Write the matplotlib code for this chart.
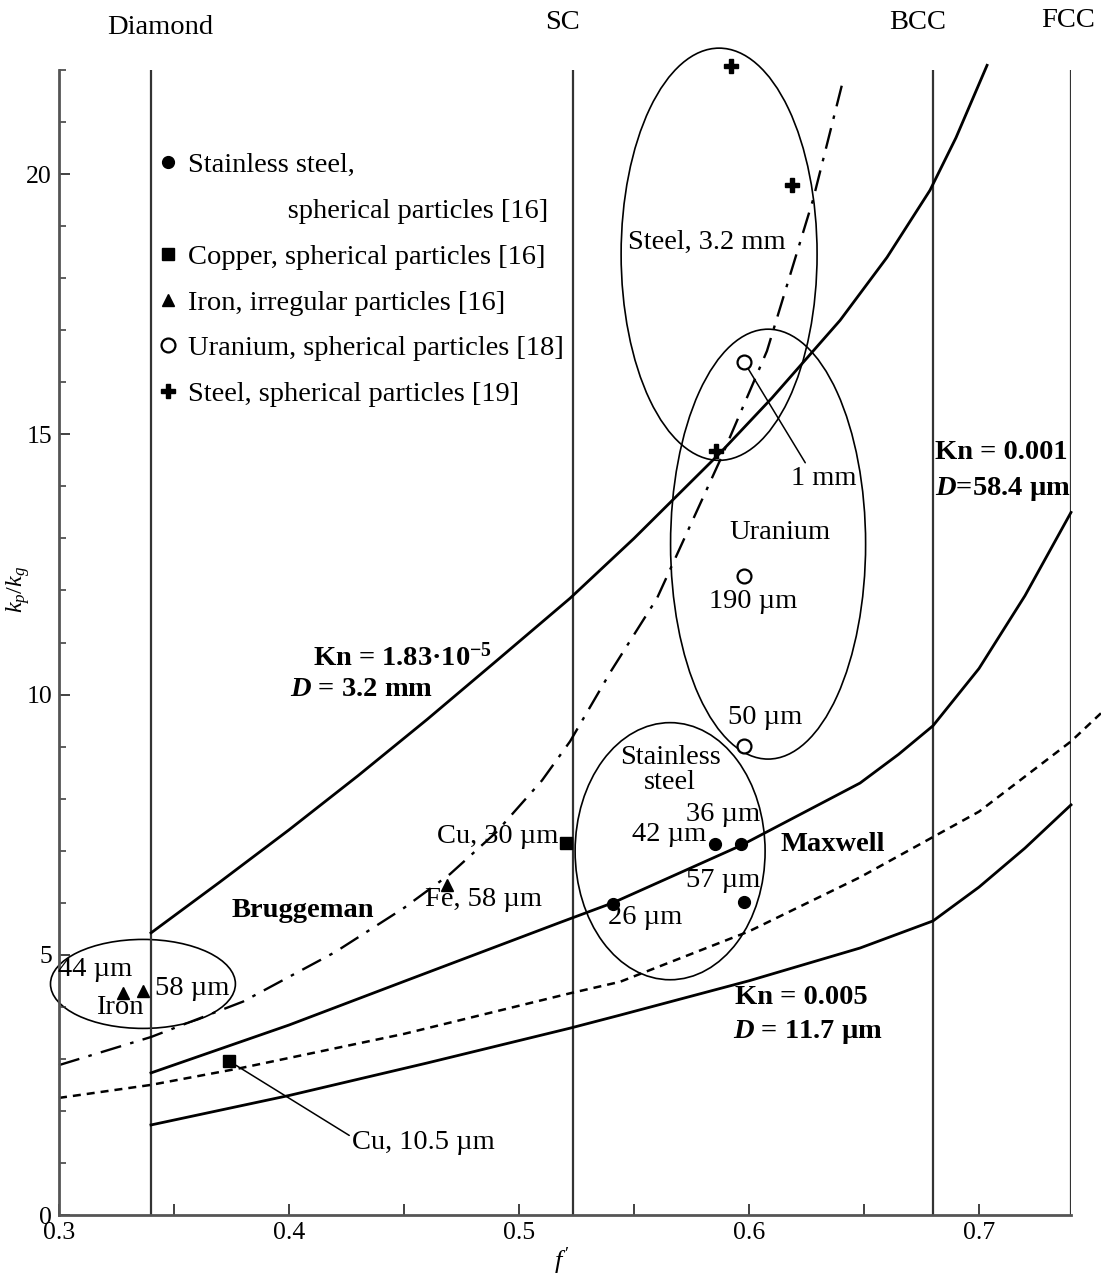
import matplotlib
matplotlib.use("Agg")
import matplotlib.pyplot as plt
from matplotlib.patches import Ellipse
from matplotlib.lines import Line2D
from matplotlib.ticker import MultipleLocator

plt.rcParams['font.family'] = ['Liberation Serif', 'DejaVu Serif']
plt.rcParams['mathtext.fontset'] = 'custom'
plt.rcParams['mathtext.rm'] = 'Liberation Serif'
plt.rcParams['mathtext.it'] = 'Liberation Serif:italic'
plt.rcParams['mathtext.bf'] = 'Liberation Serif:bold'
plt.rcParams['mathtext.bfit'] = 'Liberation Serif:italic:bold'

# ---- packing structures (solid fraction) ----
structure_names = ["Diamond", "SC", "BCC", "FCC"]
structure_f = [0.34, 0.5236, 0.68, 0.74]

# ---- model curves: solid fraction f' and k_p/k_g ----
kn_large_f = [0.34, 0.37, 0.40, 0.43, 0.46, 0.49, 0.5222, 0.55, 0.5874, 0.61, 0.6396, 0.66, 0.6787, 0.69, 0.7035]
kn_large_k = [5.42, 6.40, 7.40, 8.44, 9.52, 10.64, 11.85, 13.0, 14.64, 15.70, 17.19, 18.40, 19.69, 20.70, 22.09]

bruggeman_f = [0.30, 0.34, 0.38, 0.42, 0.45, 0.47, 0.49, 0.51, 0.5222, 0.54, 0.56, 0.5874, 0.6078, 0.6278, 0.6409]
bruggeman_k = [2.88, 3.42, 4.10, 5.05, 5.90, 6.55, 7.35, 8.35, 9.10, 10.45, 11.85, 14.50, 16.60, 19.50, 21.80]

kn_001_f = [0.34, 0.40, 0.4513, 0.5178, 0.5409, 0.5965, 0.6483, 0.665, 0.68, 0.70, 0.72, 0.74]
kn_001_k = [2.73, 3.65, 4.51, 5.62, 6.00, 7.10, 8.30, 8.85, 9.40, 10.50, 11.90, 13.50]

maxwell_f = [0.30, 0.34, 0.3787, 0.45, 0.5222, 0.5439, 0.60, 0.6483, 0.70, 0.74, 0.753]
maxwell_k = [2.25, 2.50, 2.82, 3.48, 4.26, 4.48, 5.45, 6.49, 7.75, 9.10, 9.64]

kn_005_f = [0.34, 0.4004, 0.46, 0.5222, 0.5439, 0.60, 0.6483, 0.68, 0.70, 0.72, 0.74]
kn_005_k = [1.73, 2.30, 2.92, 3.59, 3.84, 4.50, 5.13, 5.65, 6.30, 7.05, 7.88]

# ---- measured data ----
stainless_f = [0.5409, 0.5852, 0.5965, 0.598]
stainless_k = [5.98, 7.13, 7.13, 6.02]
copper_f = [0.5204, 0.3739]
copper_k = [7.15, 2.96]
iron_f = [0.3278, 0.3365, 0.4687]
iron_k = [4.27, 4.31, 6.35]
uranium_f = [0.598, 0.598, 0.598]
uranium_k = [16.38, 12.27, 9.02]
steel_f = [0.5922, 0.6187, 0.5857]
steel_k = [22.08, 19.79, 14.67]

legend_labels = ["Stainless steel,",
                 "              spherical particles [16]",
                 "Copper, spherical particles [16]",
                 "Iron, irregular particles [16]",
                 "Uranium, spherical particles [18]",
                 "Steel, spherical particles [19]"]

FS = 20.5      # annotation / legend text
FT = 18.5      # tick labels
W, H = 1101, 1276
fig = plt.figure(figsize=(W / 100, H / 100), dpi=100)
ax = fig.add_axes([59 / W, (H - 1215) / H, 1012 / W, 1145 / H])
ax.set_xlim(0.3, 0.74)
ax.set_ylim(0, 22)

for s in ("top", "right"):
    ax.spines[s].set_visible(False)
for s in ("left", "bottom"):
    ax.spines[s].set_linewidth(2.0)
    ax.spines[s].set_color("#555555")

ax.xaxis.set_major_locator(MultipleLocator(0.1))
ax.xaxis.set_minor_locator(MultipleLocator(0.05))
ax.yaxis.set_major_locator(MultipleLocator(5))
ax.yaxis.set_minor_locator(MultipleLocator(1))
ax.tick_params(axis="both", which="both", direction="in", labelsize=FT, color="#333333")
ax.tick_params(axis="x", which="both", length=8, width=1.3, pad=5)
ax.tick_params(axis="y", which="major", length=8, width=1.3, pad=5)
ax.tick_params(axis="y", which="minor", length=5, width=1.1)
ax.set_xticklabels([f"{v:.1f}" for v in ax.get_xticks()])

ax.set_ylabel(r"$k_p/k_g$", fontsize=17.5)
ax.yaxis.set_label_coords(-0.027, 0.546)
ax.set_xlabel(r"$f\,'$", fontsize=19)
ax.xaxis.set_label_coords(0.497, -0.027)

# structure lines and names
ax.vlines(structure_f, 0, 22, colors="#333333", linewidth=1.6)
name_offsets = [0.0039, -0.0045, -0.0065, -0.0013]
name_heights = [22.82, 22.92, 22.92, 22.96]
for name, f, off, hy in zip(structure_names, structure_f, name_offsets, name_heights):
    ax.text(f + off, hy, name, ha="center", va="center", fontsize=FS, clip_on=False)

# model curves
lw = 2.0
ax.plot(kn_large_f, kn_large_k, color="black", lw=lw, clip_on=False)
ax.plot(bruggeman_f, bruggeman_k, color="black", lw=1.7, dashes=(9, 4, 1.5, 4), clip_on=False)
ax.plot(kn_001_f, kn_001_k, color="black", lw=lw, clip_on=False)
ax.plot(maxwell_f, maxwell_k, color="black", lw=1.8, dashes=(3.2, 2.4), clip_on=False)
ax.plot(kn_005_f, kn_005_k, color="black", lw=lw, clip_on=False)

# grouping ellipses
ell_kw = dict(facecolor="none", edgecolor="black", linewidth=1.2, clip_on=False)
ax.add_patch(Ellipse((0.5870, 18.46), 0.0852, 7.92, **ell_kw))
ax.add_patch(Ellipse((0.6083, 12.89), 0.0848, 8.26, **ell_kw))
ax.add_patch(Ellipse((0.5657, 6.99), 0.0826, 4.94, **ell_kw))
ax.add_patch(Ellipse((0.3365, 4.44), 0.0804, 1.71, **ell_kw))

# data points
pt = dict(ls="none", zorder=5, clip_on=False)
ax.plot(stainless_f, stainless_k, "o", color="black", ms=8.5, **pt)
ax.plot(copper_f, copper_k, "s", color="black", ms=8, **pt)
ax.plot(iron_f, iron_k, "^", color="black", ms=8.5, **pt)
ax.plot(uranium_f, uranium_k, "o", mfc="white", mec="black", mew=1.6, ms=10, **pt)
ax.plot(steel_f, steel_k, "P", color="black", ms=10, **pt)

# legend
handles = [
    Line2D([], [], ls="none", marker="o", color="black", ms=8.5),
    Line2D([], [], ls="none"),
    Line2D([], [], ls="none", marker="s", color="black", ms=8),
    Line2D([], [], ls="none", marker="^", color="black", ms=8.5),
    Line2D([], [], ls="none", marker="o", mfc="white", mec="black", mew=1.6, ms=10),
    Line2D([], [], ls="none", marker="P", color="black", ms=10),
]
ax.legend(handles, legend_labels, loc="upper left", bbox_to_anchor=(157 / W, 1 - 152 / H),
          bbox_transform=fig.transFigure, frameon=False, fontsize=FS, borderpad=0,
          borderaxespad=0, handlelength=0.75, handletextpad=0.35, labelspacing=0.70)

# point labels
txt = dict(fontsize=FS, ha="center", va="center")
ax.text(0.5817, 18.69, "Steel, 3.2 mm", **txt)
ax.text(0.6135, 13.12, "Uranium", **txt)
ax.text(0.6017, 11.78, "190 µm", **txt)
ax.text(0.6070, 9.55, "50 µm", **txt)
ax.text(0.5657, 8.55, "Stainless\nsteel", linespacing=1.0, **txt)
ax.text(0.5887, 7.70, "36 µm", **txt)
ax.text(0.5652, 7.32, "42 µm", **txt)
ax.text(0.5887, 6.42, "57 µm", **txt)
ax.text(0.5548, 5.71, "26 µm", **txt)
ax.text(0.5170, 7.28, "Cu, 30 µm", fontsize=FS, ha="right", va="center")
ax.text(0.4591, 6.07, "Fe, 58 µm", fontsize=FS, ha="left", va="center")
ax.text(0.3157, 4.71, "44 µm", **txt)
ax.text(0.3265, 3.98, "Iron", **txt)
ax.text(0.3417, 4.36, "58 µm", fontsize=FS, ha="left", va="center")

ax.annotate("1 mm", xy=(uranium_f[0], uranium_k[0]), xytext=(0.6326, 14.16),
            fontsize=FS, ha="center", va="center",
            arrowprops=dict(arrowstyle="-", color="black", lw=1.1, shrinkA=0, shrinkB=5,
                            relpos=(0.24, 1.0)))
ax.annotate("Cu, 10.5 µm", xy=(copper_f[1], copper_k[1]), xytext=(0.4274, 1.40),
            fontsize=FS, ha="left", va="center",
            arrowprops=dict(arrowstyle="-", color="black", lw=1.1, shrinkA=0, shrinkB=6,
                            relpos=(0.0, 0.7)))

# curve labels
bold = dict(fontsize=FS, fontweight="bold", va="center")
ax.text(0.4104, 10.72, r"Kn = 1.83·10$^{\mathbf{-5}}$", ha="left", **bold)
ax.text(0.4004, 10.09, r"$\mathbfit{D}$ = 3.2 mm", ha="left", **bold)
ax.text(0.4061, 5.86, "Bruggeman", ha="center", **bold)
ax.text(0.6365, 7.11, "Maxwell", ha="center", **bold)
ax.text(0.681, 14.66, "Kn = 0.001", ha="left", **bold)
ax.text(0.681, 13.95, r"$\mathbfit{D}$=58.4 µm", ha="left", **bold)
ax.text(0.5939, 4.17, "Kn = 0.005", ha="left", **bold)
ax.text(0.5930, 3.52, r"$\mathbfit{D}$ = 11.7 µm", ha="left", **bold)

fig.savefig("out.png", dpi=100)
